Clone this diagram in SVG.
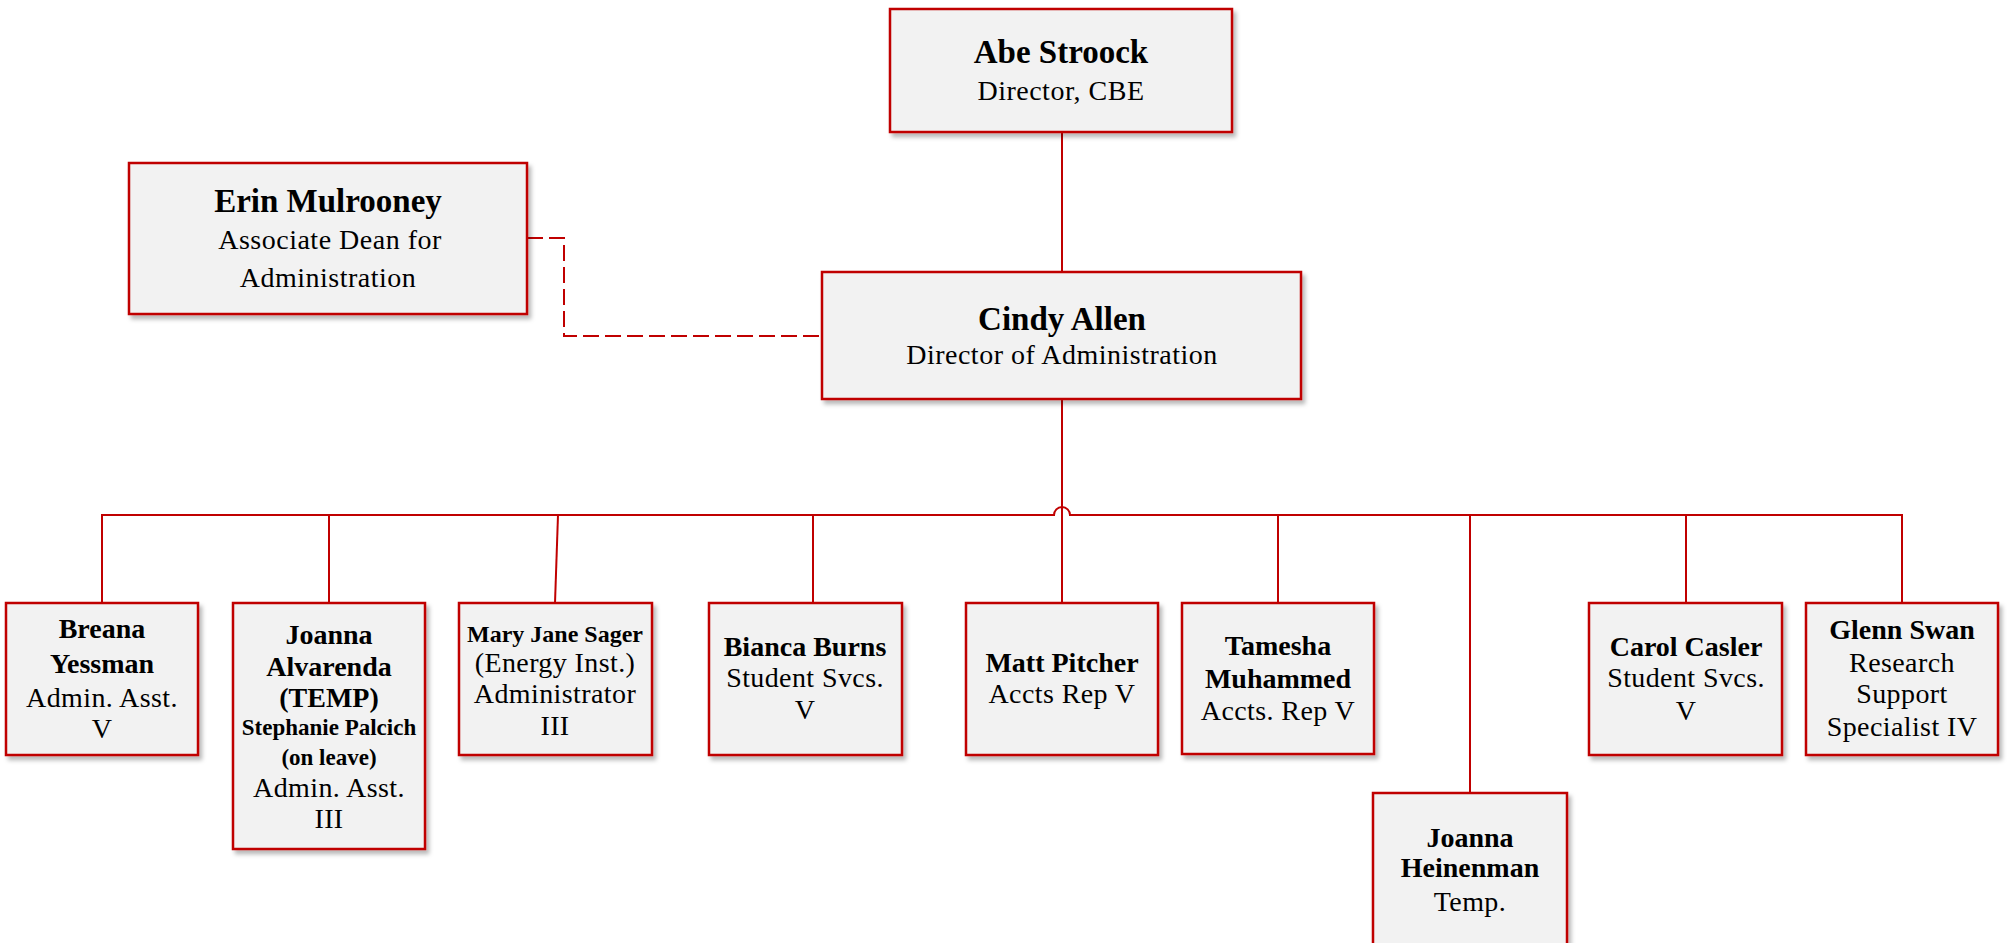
<svg xmlns="http://www.w3.org/2000/svg" width="2007" height="943" viewBox="0 0 2007 943">
<defs>
<filter id="sh" x="-10%" y="-10%" width="125%" height="125%">
<feDropShadow dx="3" dy="4" stdDeviation="2" flood-color="#000" flood-opacity="0.28"/>
</filter>
</defs>
<style>
.box{fill:#f2f2f2;stroke:#c00000;stroke-width:2.5;filter:url(#sh)}
.ln{fill:none;stroke:#c00000;stroke-width:2}
.dash{fill:none;stroke:#c00000;stroke-width:2;stroke-dasharray:16 6}
text{font-family:"Liberation Serif","Times New Roman",serif;fill:#000;text-anchor:middle}
.n1{font-size:33px;font-weight:bold}
.t1{font-size:28px;letter-spacing:0.5px}
.n2{font-size:28px;font-weight:bold}
.t2{font-size:28px;letter-spacing:0.4px}
.s2{font-size:23px;font-weight:bold}
.m2{font-size:24px;font-weight:bold}
</style>
<rect width="2007" height="943" fill="#fff"/>
<g id="connectors">
<path class="ln" d="M1062,132 V272"/>
<path class="ln" d="M1062,399 V603"/>
<path class="dash" d="M527,238 H564 V336 H822"/>
<path class="ln" d="M102,603 V515 H1054 A8,8 0 0 1 1070,515 H1902 V603"/>
<path class="ln" d="M329,515 V603"/>
<path class="ln" d="M558,515 L555,603"/>
<path class="ln" d="M813,515 V603"/>
<path class="ln" d="M1278,515 V603"/>
<path class="ln" d="M1470,515 V793"/>
<path class="ln" d="M1686,515 V603"/>
</g>
<g id="abe">
<rect class="box" x="890" y="9" width="342" height="123"/>
<text class="n1" x="1061" y="63">Abe Stroock</text>
<text class="t1" x="1061" y="100">Director, CBE</text>
</g>
<g id="erin">
<rect class="box" x="129" y="163" width="398" height="151"/>
<text class="n1" x="328" y="212">Erin Mulrooney</text>
<text class="t1" x="330" y="249">Associate Dean for</text>
<text class="t1" x="328" y="287">Administration</text>
</g>
<g id="cindy">
<rect class="box" x="822" y="272" width="479" height="127"/>
<text class="n1" x="1062" y="330">Cindy Allen</text>
<text class="t1" x="1062" y="364">Director of Administration</text>
</g>
<g id="breana">
<rect class="box" x="6" y="603" width="192" height="152"/>
<text class="n2" x="102" y="638">Breana</text>
<text class="n2" x="102" y="673">Yessman</text>
<text class="t2" x="102" y="707">Admin. Asst.</text>
<text class="t2" x="102" y="738">V</text>
</g>
<g id="joanna-alvarenda">
<rect class="box" x="233" y="603" width="192" height="246"/>
<text class="n2" x="329" y="644">Joanna</text>
<text class="n2" x="329" y="676">Alvarenda</text>
<text class="n2" x="329" y="707">(TEMP)</text>
<text class="s2" x="329" y="735">Stephanie Palcich</text>
<text class="s2" x="329" y="765">(on leave)</text>
<text class="t2" x="329" y="797">Admin. Asst.</text>
<text class="t2" x="329" y="828">III</text>
</g>
<g id="mary-jane">
<rect class="box" x="459" y="603" width="193" height="152"/>
<text class="m2" x="555" y="642">Mary Jane Sager</text>
<text class="t2" x="555" y="672">(Energy Inst.)</text>
<text class="t2" x="555" y="703">Administrator</text>
<text class="t2" x="555" y="735">III</text>
</g>
<g id="bianca">
<rect class="box" x="709" y="603" width="193" height="152"/>
<text class="n2" x="805" y="656">Bianca Burns</text>
<text class="t2" x="805" y="687">Student Svcs.</text>
<text class="t2" x="805" y="719">V</text>
</g>
<g id="matt">
<rect class="box" x="966" y="603" width="192" height="152"/>
<text class="n2" x="1062" y="672">Matt Pitcher</text>
<text class="t2" x="1062" y="703">Accts Rep V</text>
</g>
<g id="tamesha">
<rect class="box" x="1182" y="603" width="192" height="151"/>
<text class="n2" x="1278" y="655">Tamesha</text>
<text class="n2" x="1278" y="688">Muhammed</text>
<text class="t2" x="1278" y="720">Accts. Rep V</text>
</g>
<g id="joanna-heinenman">
<rect class="box" x="1373" y="793" width="194" height="170"/>
<text class="n2" x="1470" y="847">Joanna</text>
<text class="n2" x="1470" y="877">Heinenman</text>
<text class="t2" x="1470" y="911">Temp.</text>
</g>
<g id="carol">
<rect class="box" x="1589" y="603" width="193" height="152"/>
<text class="n2" x="1686" y="656">Carol Casler</text>
<text class="t2" x="1686" y="687">Student Svcs.</text>
<text class="t2" x="1686" y="720">V</text>
</g>
<g id="glenn">
<rect class="box" x="1806" y="603" width="192" height="152"/>
<text class="n2" x="1902" y="639">Glenn Swan</text>
<text class="t2" x="1902" y="672">Research</text>
<text class="t2" x="1902" y="703">Support</text>
<text class="t2" x="1902" y="736">Specialist IV</text>
</g>
</svg>
